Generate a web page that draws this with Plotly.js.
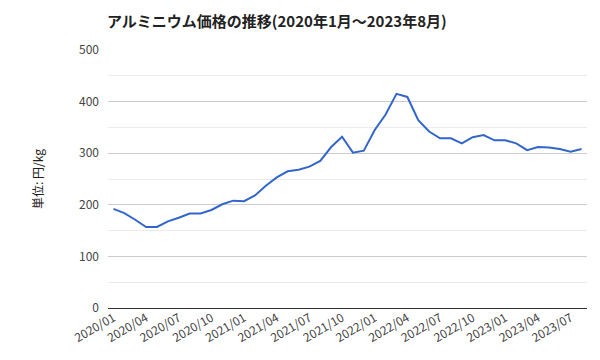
<!DOCTYPE html>
<html>
<head>
<meta charset="utf-8">
<script src="https://cdn.plot.ly/plotly-3.0.1.min.js"></script>
<style>html,body{margin:0;padding:0;background:#fff;}#chart{width:600px;height:360px;}</style>
</head>
<body>
<div id="chart"></div>
<script>
const months = [
  "2020/01","2020/02","2020/03","2020/04","2020/05","2020/06","2020/07","2020/08","2020/09","2020/10","2020/11","2020/12",
  "2021/01","2021/02","2021/03","2021/04","2021/05","2021/06","2021/07","2021/08","2021/09","2021/10","2021/11","2021/12",
  "2022/01","2022/02","2022/03","2022/04","2022/05","2022/06","2022/07","2022/08","2022/09","2022/10","2022/11","2022/12",
  "2023/01","2023/02","2023/03","2023/04","2023/05","2023/06","2023/07","2023/08"
];
const prices = [
  192,184,171,157,157,168,175,183,183,190,201,208,
  207,218,237,253,265,268,274,285,312,332,301,305,
  345,375,415,409,364,342,329,329,319,331,335,325,
  325,319,306,312,311,308,303,308
];
const tickLabels = ["2020/01","2020/04","2020/07","2020/10","2021/01","2021/04","2021/07","2021/10","2022/01","2022/04","2022/07","2022/10","2023/01","2023/04","2023/07"];

const FONT = '"Noto Sans CJK JP", "Noto Sans", sans-serif';

Plotly.newPlot('chart', [{
  x: months,
  y: prices,
  type: 'scatter',
  mode: 'lines',
  line: {color: '#3366cc', width: 2},
  hoverinfo: 'x+y'
}], {
  width: 600, height: 360,
  margin: {l: 108, r: 13, t: 50, b: 52},
  paper_bgcolor: '#fff', plot_bgcolor: '#fff',
  showlegend: false,
  title: {
    text: '<b>アルミニウム価格の推移(2020年1月～2023年8月)</b>',
    font: {family: FONT, size: 15, color: '#222'},
    x: 107/600, xanchor: 'left', xref: 'container',
    y: 1 - 22/360, yanchor: 'middle', yref: 'container'
  },
  xaxis: {
    type: 'category',
    range: [-0.5, months.length - 0.5],
    tickmode: 'array',
    tickvals: tickLabels,
    ticktext: tickLabels,
    tickangle: -30,
    showgrid: false,
    zeroline: false,
    showline: false,
    ticks: '',
    tickfont: {family: FONT, size: 12, color: '#444'},
    fixedrange: true
  },
  yaxis: {
    range: [0, 500],
    dtick: 100,
    tickmode: 'linear',
    tick0: 0,
    showgrid: true,
    gridcolor: '#cccccc',
    gridwidth: 1,
    zeroline: true,
    zerolinecolor: '#333333',
    zerolinewidth: 1,
    showline: false,
    ticks: '',
    ticklen: 0,
    ticklabelstandoff: 8,
    tickfont: {family: FONT, size: 12, color: '#444'},
    minor: {dtick: 50, showgrid: true, gridcolor: '#ebebeb', gridwidth: 1},
    title: {text: '単位: 円/kg', font: {family: FONT, size: 12, color: '#222'}, standoff: 32},
    fixedrange: true
  }
}, {displayModeBar: false, staticPlot: true});
</script>
</body>
</html>
